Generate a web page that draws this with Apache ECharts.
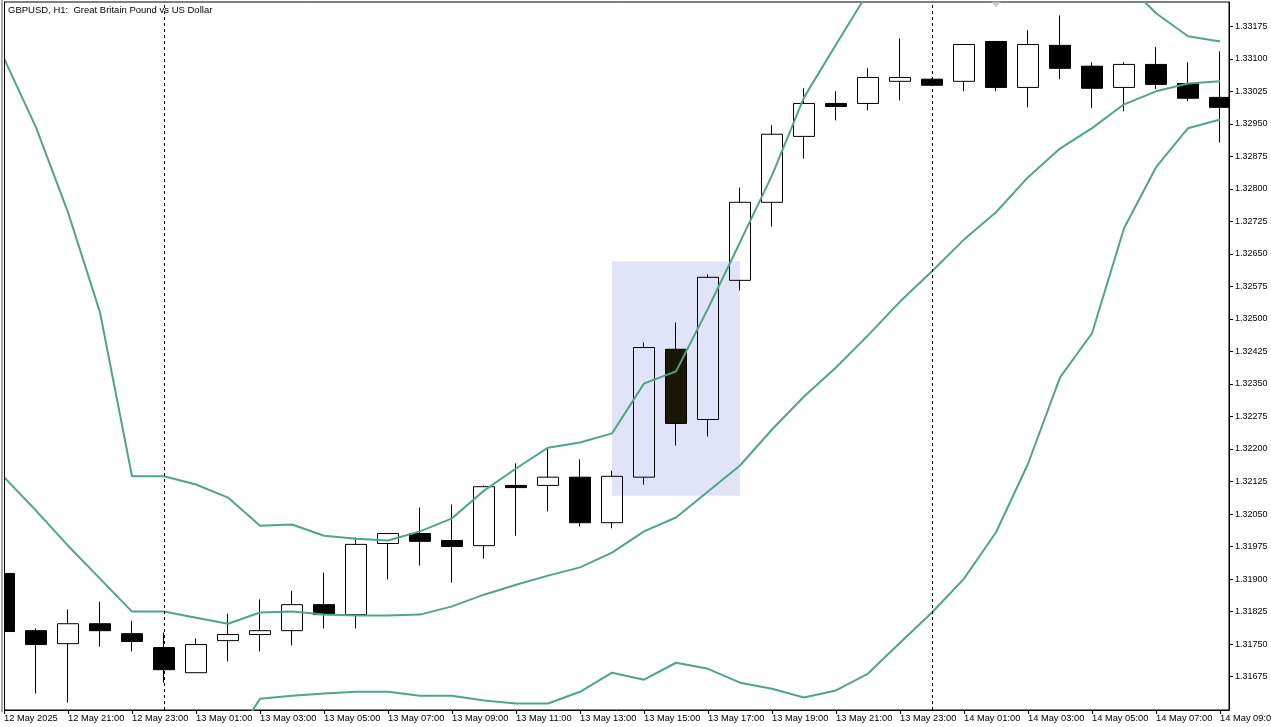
<!DOCTYPE html>
<html>
<head>
<meta charset="utf-8">
<title>GBPUSD H1</title>
<style>
  html, body { margin: 0; padding: 0; background: #fff; overflow: hidden; }
  #chart { width: 1271px; height: 727px; }
</style>
<script src="https://cdn.jsdelivr.net/npm/echarts@6/dist/echarts.min.js"></script>
</head>
<body>
<div id="chart"></div>
<script>
// candles, one per hour from 12 May 19:00
var opens = [1.31913,1.31781,1.31751,1.31797,1.31774,1.31742,1.31684,1.31758,1.31772,1.31781,
  1.31841,1.31818,1.31982,1.32005,1.31989,1.31977,1.32116,1.32116,1.32135,1.32030,
  1.32135,1.32430,1.32268,1.32589,1.32769,1.32921,1.32997,1.32997,1.33048,1.33053,
  1.33048,1.33140,1.33034,1.33131,1.33083,1.33034,1.33087,1.33043,1.33011];
var closes = [1.31779,1.31749,1.31797,1.31781,1.31756,1.31691,1.31749,1.31772,1.31781,1.31841,
  1.31818,1.31980,1.32005,1.31987,1.31975,1.32113,1.32111,1.32135,1.32030,1.32137,
  1.32434,1.32259,1.32596,1.32769,1.32926,1.32997,1.32990,1.33057,1.33057,1.33039,
  1.33133,1.33034,1.33133,1.33078,1.33032,1.33087,1.33041,1.33009,1.32988];
var lows = [1.31779,1.31636,1.31615,1.31744,1.31733,1.31661,1.31684,1.31710,1.31733,1.31747,
  1.31786,1.31786,1.31899,1.31931,1.31892,1.31947,1.32000,1.32056,1.32021,1.32017,
  1.32118,1.32208,1.32229,1.32566,1.32713,1.32870,1.32958,1.32981,1.33004,1.33037,
  1.33025,1.33025,1.32988,1.33053,1.32986,1.32979,1.33030,1.33002,1.32907];
var highs = [1.31913,1.31786,1.31830,1.31848,1.31804,1.31777,1.31763,1.31820,1.31853,1.31873,
  1.31915,1.31996,1.32005,1.32065,1.32072,1.32116,1.32167,1.32203,1.32176,1.32150,
  1.32446,1.32492,1.32603,1.32803,1.32947,1.33032,1.33025,1.33078,1.33147,1.33055,
  1.33133,1.33140,1.33166,1.33200,1.33092,1.33092,1.33127,1.33092,1.33117];

// bollinger bands, null where the band is above or below the visible chart
var bandUpper = [1.33101,1.32942,1.32746,1.32515,1.32137,1.32137,1.32118,1.32088,1.32023,1.32026,
  1.32000,1.31993,1.31989,1.32010,1.32040,1.32104,1.32155,1.32203,1.32215,1.32236,
  1.32351,1.32379,1.32524,1.32677,1.32831,1.33011,1.33133,1.33253,null,null,
  null,null,null,null,null,1.33279,1.33205,1.33152,1.33140];
var bandMiddle = [1.32135,1.32058,1.31977,1.31901,1.31825,1.31825,1.31811,1.31797,1.31823,1.31825,
  1.31818,1.31816,1.31816,1.31818,1.31837,1.31864,1.31887,1.31908,1.31927,1.31961,
  1.32010,1.32042,1.32102,1.32162,1.32245,1.32321,1.32388,1.32462,1.32540,1.32610,
  1.32683,1.32746,1.32827,1.32893,1.32940,1.32995,1.33025,1.33043,1.33048];
var bandLower = [null,null,null,null,null,null,null,1.31509,1.31624,1.31631,
  1.31636,1.31640,1.31640,1.31631,1.31631,1.31620,1.31613,1.31613,1.31640,1.31684,
  1.31668,1.31707,1.31693,1.31661,1.31647,1.31627,1.31643,1.31682,1.31753,1.31823,
  1.31901,1.32008,1.32166,1.32365,1.32467,1.32709,1.32850,1.32940,1.32960];

var xTickIndex = [0,2,4,6,8,10,12,14,16,18,20,22,24,26,28,30,32,34,36,38];
var xTickLabels = ['12 May 2025','12 May 21:00','12 May 23:00','13 May 01:00','13 May 03:00',
  '13 May 05:00','13 May 07:00','13 May 09:00','13 May 11:00','13 May 13:00','13 May 15:00',
  '13 May 17:00','13 May 19:00','13 May 21:00','13 May 23:00','14 May 01:00','14 May 03:00',
  '14 May 05:00','14 May 07:00','14 May 09:00'];
var yTicks = [1.31675,1.3175,1.31825,1.319,1.31975,1.3205,1.32125,1.322,1.32275,1.3235,1.32425,
  1.325,1.32575,1.3265,1.32725,1.328,1.32875,1.3295,1.33025,1.331,1.33175];

var sessionLines = [5, 29];          // dashed vertical separators
var regionX = [19, 23];              // shaded box
var regionY = [1.32633, 1.32092];
var selectedCandle = 21;
var topMarkerIndex = [31];
var topMarkerPrice = [1.33225];

var xMin = 0, xMax = 38.28;
var yMin = 1.31598, yMax = 1.33231;
var labelFont = 'Liberation Sans';
var green = '#4fa684';

var candleData = opens.map(function (o, i) {
  var item = { value: [i, o, closes[i], lows[i], highs[i]] };
  if (i === selectedCandle) {
    item.itemStyle = { color: '#1a1706', color0: '#1a1706', borderColor0: '#000' };
  }
  return item;
});

function bandSeries(values) {
  return {
    type: 'line',
    data: values.map(function (v, i) { return [i, v]; }),
    symbol: 'none',
    z: 4,
    silent: true,
    lineStyle: { color: green, width: 2 }
  };
}

var myChart = echarts.init(document.getElementById('chart'));
myChart.setOption({
  animation: false,
  backgroundColor: '#fff',
  title: {
    text: 'GBPUSD, H1:  Great Britain Pound vs US Dollar',
    left: 8, top: 5,
    padding: 0,
    textStyle: { fontFamily: labelFont, fontSize: 9.5, fontWeight: 'normal', color: '#000' }
  },
  // the candlestick series only clips whole boxes, so first and last candle are masked here
  graphic: [
    { type: 'rect', z: 100, shape: { x: 0, y: 0, width: 4, height: 727 }, style: { fill: '#fff' } },
    { type: 'rect', z: 101, shape: { x: 1, y: 0, width: 2, height: 712 }, style: { fill: '#a8a8a8' } },
    { type: 'rect', z: 101, shape: { x: 4, y: 2, width: 1, height: 708 }, style: { fill: '#000' } },
    { type: 'rect', z: 100, shape: { x: 1230, y: 93, width: 4, height: 22 }, style: { fill: '#fff' } }
  ],
  grid: {
    left: 4, top: 2, right: 42, bottom: 17,
    outerBoundsMode: 'none',
    show: true,
    borderColor: '#000',
    borderWidth: 1,
    backgroundColor: '#fff'
  },
  xAxis: {
    type: 'value',
    min: xMin, max: xMax,
    splitLine: { show: false },
    axisLine: { onZero: false, lineStyle: { color: '#000' } },
    axisTick: { length: 4, customValues: xTickIndex, lineStyle: { color: '#000' } },
    axisLabel: {
      customValues: xTickIndex,
      margin: 4,
      align: 'left',
      fontFamily: labelFont,
      fontSize: 9.3,
      color: '#000',
      formatter: function (v) { return xTickLabels[Math.round(v / 2)]; }
    }
  },
  yAxis: {
    type: 'value',
    position: 'right',
    min: yMin, max: yMax,
    splitLine: { show: false },
    axisLine: { show: true, onZero: false, lineStyle: { color: '#000' } },
    axisTick: { show: true, length: 4, customValues: yTicks, lineStyle: { color: '#000' } },
    axisLabel: {
      customValues: yTicks,
      margin: 6,
      fontFamily: labelFont,
      fontSize: 9,
      color: '#000',
      formatter: function (v) { return v.toFixed(5); }
    }
  },
  series: [
    {
      type: 'candlestick',
      data: candleData,
      barWidth: 22,
      silent: true,
      z: 2,
      itemStyle: {
        color: 'transparent',
        color0: '#000',
        borderColor: '#000',
        borderColor0: '#000',
        borderWidth: 1
      },
      markArea: {
        silent: true,
        itemStyle: { color: '#e1e4f8' },
        data: [[
          { xAxis: regionX[0], yAxis: regionY[0] },
          { xAxis: regionX[1], yAxis: regionY[1] }
        ]]
      },
      markLine: {
        silent: true,
        symbol: 'none',
        label: { show: false },
        lineStyle: { color: '#000', type: [3, 3], width: 1 },
        data: sessionLines.map(function (x) { return { xAxis: x }; })
      }
    },
    bandSeries(bandUpper),
    bandSeries(bandMiddle),
    bandSeries(bandLower),
    {
      type: 'scatter',
      data: topMarkerIndex.map(function (x, i) { return [x, topMarkerPrice[i]]; }),
      symbol: 'triangle',
      symbolRotate: 180,
      symbolSize: [10, 6],
      silent: true,
      itemStyle: { color: '#c0c0c0' }
    }
  ]
});
</script>
</body>
</html>
